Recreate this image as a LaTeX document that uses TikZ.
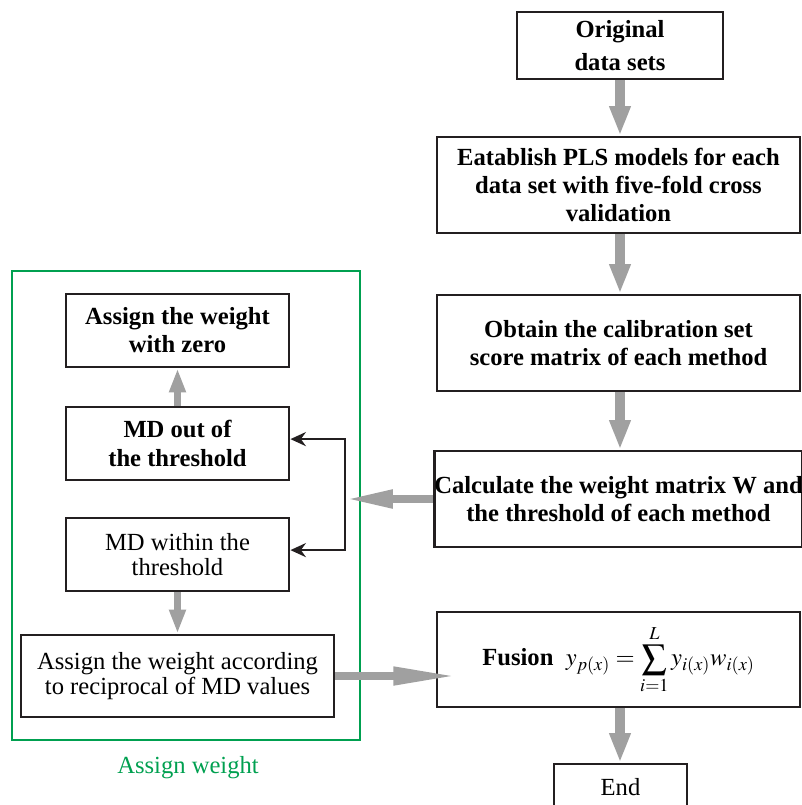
\documentclass[tikz,border=0pt]{standalone}
\usepackage{amsmath}
\usepackage{mathptmx}
\usepackage[no-math]{fontspec}
\setmainfont{Liberation Serif}
\usetikzlibrary{arrows.meta}
\definecolor{boxline}{RGB}{35,31,32}
\definecolor{flowgray}{RGB}{160,160,160}
\definecolor{groupgreen}{RGB}{0,160,80}
\tikzset{
  box/.style={draw=boxline, line width=2pt, inner sep=0pt, align=center,
    font=\bfseries\fontsize{17.5}{20}\selectfont},
  plainbox/.style={box, font=\fontsize{17.5}{17.5}\selectfont},
  flow/.style={draw=flowgray, line width=7pt, -{Triangle[length=21pt,width=14pt]}},
  flowh/.style={draw=flowgray, line width=5.7pt, -{Triangle[length=34pt,width=12pt]}},
  link/.style={draw=boxline, line width=1.4pt, -{Stealth[length=11pt,width=10pt]}}
}
\begin{document}
\begin{tikzpicture}[x=0.025cm, y=-0.025cm]
    \useasboundingbox (0,0) rectangle (802,805);
    % right column
    \node [box, minimum width=5.15cm, minimum height=1.675cm, font=\bfseries\fontsize{17.5}{23.5}\selectfont] (orig) at (620,45.5) {Original\\data sets};
    \node [box, minimum width=9.075cm, minimum height=2.4cm] (pls) at (618.5,185) {Eatablish PLS models for each\\data set with five-fold cross\\validation};
    \node [box, minimum width=9.075cm, minimum height=2.4cm] (calib) at (618.5,343) {Obtain the calibration set\\score matrix of each method};
    \node [box, minimum width=9.075cm, minimum height=2.4cm] (weight) at (618.5,499) {Calculate the weight matrix W and\\the threshold of each method};
    \node [box, minimum width=9.075cm, minimum height=2.375cm] (fusion) at (618.5,659.5) {Fusion \ $\displaystyle y_{p(x)}=\sum_{i=1}^{L} y_{i(x)}w_{i(x)}$};
    \node [plainbox, minimum width=3.325cm, minimum height=1.15cm] (stop) at (620.5,787) {End};
    % left group
    \draw [groupgreen, line width=1.8pt] (12,271) rectangle (360,740);
    \node [box, minimum width=5.575cm, minimum height=1.825cm] (zero) at (177.5,330.5) {Assign the weight\\with zero};
    \node [box, minimum width=5.575cm, minimum height=1.825cm] (outth) at (177.5,443.5) {MD out of\\the threshold};
    \node [plainbox, minimum width=5.575cm, minimum height=1.825cm] (within) at (177.5,554.5) {MD within the\\threshold};
    \node [plainbox, minimum width=7.825cm, minimum height=2.05cm] (recip) at (177.5,676) {Assign the weight according\\to reciprocal of MD values};
    \node [groupgreen, font=\fontsize{17.5}{20}\selectfont] (group) at (188,768) {Assign weight};
    \coordinate (split) at (345,499);
    \coordinate (fusein) at (458,676);
    % arrows
    \draw [flow] (orig.south) -- (orig.south |- pls.north);
    \draw [flow] (orig.south |- pls.south) -- (orig.south |- calib.north);
    \draw [flow] (orig.south |- calib.south) -- (orig.south |- weight.north);
    \draw [flow] (orig.south |- fusion.south) -- (orig.south |- stop.north);
    \draw [flow, -{Triangle[length=17pt,width=11pt]}, line width=5pt] (outth.north) -- (zero.south);
    \draw [flow, -{Triangle[length=17pt,width=11pt]}, line width=5pt] (within.south) -- (recip.north);
    \draw [flowh] (weight.west) -- (split);
    \draw [flowh, -{Triangle[length=46pt,width=12pt]}] (recip.east) -- (fusein);
    \draw [link] (split) |- ([yshift=0.11cm]outth.east);
    \draw [link] (split) |- ([yshift=0.11cm]within.east);
\end{tikzpicture}
\end{document}
